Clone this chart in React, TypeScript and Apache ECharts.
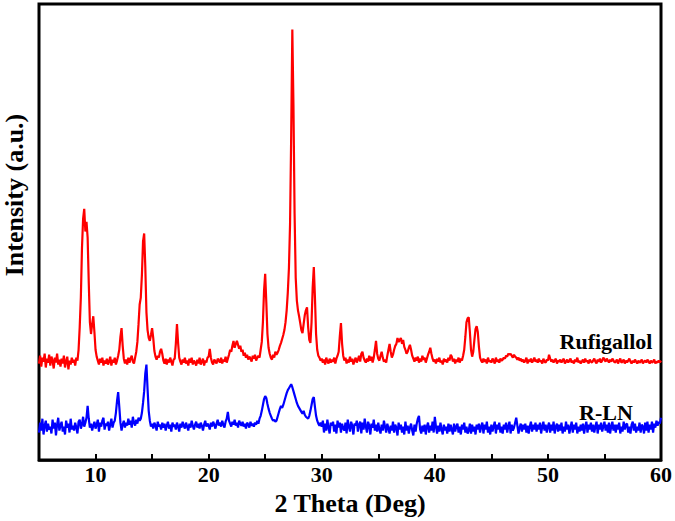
import React, { useEffect, useRef } from "react";
import * as echarts from "echarts";

// 2θ sampling grid (degrees)
const X_START = 5;
const X_STEP = 0.1;

// Rufigallol intensities (a.u., offset trace), 5.0 .. 60.0 step 0.1
const rufigallol: number[] = [
  98,106,95,104,100,108,94,103,99,107,
  96,105,101,93,104,99,108,97,102,95,
  103,98,106,94,100,105,92,101,97,104,
  99,102,96,104,101,112,135,165,215,245,
  255,232,242,226,180,140,128,138,146,130,
  112,105,101,97,103,99,104,96,101,98,
  103,97,100,105,96,102,99,104,97,101,
  106,112,125,134,116,103,98,102,97,104,
  99,103,106,100,98,104,110,120,138,158,
  165,188,222,230,196,150,132,124,121,127,
  134,124,111,105,102,106,104,110,113,108,
  101,98,103,97,102,99,104,100,96,102,
  103,118,138,119,104,100,97,102,99,104,
  98,101,96,103,99,104,97,101,99,96,
  102,98,104,97,100,103,96,101,99,104,
  105,113,104,99,97,102,100,98,103,101,
  99,104,98,102,100,105,99,103,107,112,
  110,116,121,114,118,121,117,113,116,110,
  112,106,109,104,107,102,105,103,100,106,
  103,107,101,104,106,104,112,120,140,172,
  189,160,128,114,108,104,102,107,104,110,
  107,109,112,116,119,123,127,132,140,152,
  170,195,240,330,437,360,250,185,162,152,
  146,139,132,129,138,147,152,155,135,122,
  119,140,175,196,165,128,112,106,104,101,
  103,99,102,97,104,100,98,103,99,102,
  100,104,98,103,106,110,126,139,118,106,
  101,104,98,102,99,105,100,103,97,101,
  104,99,102,106,100,108,110,104,101,99,
  103,100,106,101,105,99,104,112,121,108,
  103,101,106,110,104,100,102,99,106,112,
  118,110,104,107,112,116,118,124,120,122,
  124,118,122,115,112,108,110,114,117,112,
  106,103,100,104,101,105,99,103,100,106,
  102,104,99,103,107,110,114,108,103,100,
  102,98,103,100,104,99,101,97,103,100,
  102,99,104,101,107,105,100,103,98,102,
  100,104,99,103,101,106,112,125,140,144,
  145,130,112,105,110,122,133,136,130,115,
  104,101,99,103,100,102,98,104,100,101,
  99,103,101,98,104,100,102,99,103,101,
  102,104,103,106,105,108,107,108,106,104,
  107,105,104,102,104,101,103,100,102,99,
  101,104,98,102,100,103,99,101,104,100,
  102,99,103,100,101,98,103,100,99,102,
  101,107,103,100,102,99,101,103,98,101,
  100,102,99,101,103,98,100,102,99,101,
  103,99,101,98,102,100,104,99,101,98,
  100,102,99,103,100,101,98,102,100,99,
  101,103,100,98,102,100,103,99,101,104,
  102,100,103,101,99,102,100,103,101,99,
  100,102,98,101,103,99,100,102,98,101,
  99,101,103,100,98,101,99,102,100,98,
  101,99,100,102,98,100,101,99,102,100,
  98,101,99,100,102,98,100,99,101,99,
  101,
];

// R-LN intensities (a.u., offset trace), 5.0 .. 60.0 step 0.1
const rln: number[] = [
  28,38,30,42,26,35,40,29,37,31,
  34,27,41,32,38,25,36,43,30,35,
  39,29,34,26,40,33,37,28,42,31,
  35,30,38,33,27,39,41,32,36,44,
  34,38,43,55,42,33,37,30,35,39,
  32,36,41,29,38,34,40,43,31,37,
  35,39,30,36,42,33,38,40,48,60,
  69,54,38,30,36,40,33,38,35,42,
  36,40,33,44,38,35,41,37,43,40,
  42,48,58,70,88,97,72,50,40,34,
  37,32,38,35,30,39,34,36,31,38,
  33,37,30,35,39,32,36,29,38,34,
  36,31,38,34,29,37,33,39,35,32,
  38,34,30,37,33,40,35,31,36,39,
  33,37,32,38,35,30,36,40,34,37,
  35,31,38,34,39,36,32,37,41,35,
  38,34,40,36,33,39,42,49,40,37,
  34,39,36,41,35,38,33,40,37,35,
  39,34,37,32,38,36,33,39,35,37,
  34,38,36,40,37,42,45,50,56,62,
  65,63,57,52,48,45,42,40,41,39,
  40,44,48,52,55,53,56,60,64,68,
  71,73,75,77,74,70,66,62,58,55,
  53,51,49,47,50,46,44,43,42,45,
  50,56,62,64,54,45,40,37,35,38,
  34,40,28,37,30,41,33,27,38,35,
  39,29,36,27,40,33,38,28,37,32,
  30,38,27,41,34,29,39,35,26,37,
  35,40,29,36,39,27,38,31,42,34,
  28,39,35,26,37,33,41,30,36,29,
  38,31,27,36,30,40,34,28,37,32,
  27,35,30,39,28,36,33,25,38,31,
  36,28,34,26,39,30,35,27,33,37,
  30,25,36,29,37,42,45,31,27,35,
  29,36,26,34,38,28,35,30,39,28,
  44,34,27,35,29,38,31,26,36,30,
  34,27,37,29,36,31,26,37,29,34,
  37,28,34,26,36,31,38,28,34,27,
  30,37,27,36,29,34,26,36,31,37,
  28,34,38,27,36,31,39,28,34,26,
  36,29,34,39,27,36,31,38,28,34,
  27,36,31,38,28,34,39,27,36,30,
  33,38,43,35,27,33,37,29,36,31,
  37,28,35,27,34,39,29,36,31,38,
  29,36,31,38,27,34,39,30,36,28,
  34,38,28,36,30,39,27,34,37,29,
  36,30,38,27,34,29,39,31,36,27,
  33,39,28,36,31,38,27,34,29,36,
  30,37,27,34,39,28,36,31,38,29,
  36,28,34,39,27,36,31,38,29,34,
  39,30,36,28,38,27,34,39,30,36,
  28,36,31,38,27,34,29,39,31,36,
  37,28,34,27,36,39,30,37,28,34,
  30,38,28,36,34,27,38,30,39,28,
  36,31,39,28,37,33,40,35,39,37,
  43,
];

const X_MIN = 5;
const X_MAX = 60;
const X_TICK_STEP = 5;
const Y_MIN = 0;
const Y_MAX = 463;

const SERIES_NAMES = ["Rufigallol", "R-LN"];

const toPairs = (vals: number[]) =>
  vals.map((v, i) => [Number((X_START + i * X_STEP).toFixed(1)), v]);

const FONT = "'Liberation Serif', 'Times New Roman', serif";

export default function App() {
  const ref = useRef<HTMLDivElement>(null);

  useEffect(() => {
    document.body.style.margin = "0";
    if (!ref.current) return;
    const chart = echarts.init(ref.current, null, { renderer: "svg" });
    chart.setOption({
      animation: false,
      backgroundColor: "#ffffff",
      grid: {
        left: 39,
        right: 13.5,
        top: 4,
        bottom: 54,
        show: true,
        borderColor: "#000",
        borderWidth: 3,
        backgroundColor: "transparent",
      },
      xAxis: {
        type: "value",
        min: X_MIN,
        max: X_MAX,
        interval: X_TICK_STEP,
        name: "2 Theta (Deg)",
        nameLocation: "middle",
        nameGap: 28,
        nameTextStyle: {
          fontFamily: FONT,
          fontWeight: "bold",
          fontSize: 26,
          color: "#000",
        },
        axisLine: { show: true, lineStyle: { color: "#000", width: 2.5 } },
        axisTick: {
          show: true,
          inside: true,
          length: 6,
          lineStyle: { color: "#000", width: 2 },
        },
        axisLabel: {
          fontFamily: FONT,
          fontWeight: "bold",
          fontSize: 22,
          color: "#000",
          margin: 3,
          formatter: (v: number) => (v % 10 === 0 ? String(v) : ""),
        },
        splitLine: { show: false },
      },
      yAxis: {
        type: "value",
        min: Y_MIN,
        max: Y_MAX,
        axisLine: { show: false },
        axisTick: { show: false },
        axisLabel: { show: false },
        splitLine: { show: false },
      },
      series: [
        {
          name: SERIES_NAMES[0],
          type: "line",
          data: toPairs(rufigallol),
          showSymbol: false,
          symbol: "none",
          lineStyle: { color: "#ff0000", width: 2.2 },
          z: 3,
        },
        {
          name: SERIES_NAMES[1],
          type: "line",
          data: toPairs(rln),
          showSymbol: false,
          symbol: "none",
          lineStyle: { color: "#0000ff", width: 2.2 },
          z: 2,
        },
      ],
      graphic: [
        {
          type: "text",
          x: 14,
          y: 195,
          rotation: Math.PI / 2,
          style: {
            text: "Intensity (a.u.)",
            fontFamily: FONT,
            fontWeight: "bold",
            fontSize: 26,
            fill: "#000",
            align: "center",
            verticalAlign: "middle",
          },
        },
        {
          type: "text",
          x: 606,
          y: 341,
          style: {
            text: SERIES_NAMES[0],
            fontFamily: FONT,
            fontWeight: "bold",
            fontSize: 22,
            fill: "#000",
            align: "center",
            verticalAlign: "middle",
          },
        },
        {
          type: "text",
          x: 606,
          y: 412,
          style: {
            text: SERIES_NAMES[1],
            fontFamily: FONT,
            fontWeight: "bold",
            fontSize: 22,
            fill: "#000",
            align: "center",
            verticalAlign: "middle",
          },
        },
      ],
    });
    return () => chart.dispose();
  }, []);

  return <div ref={ref} style={{ width: 675, height: 521 }} />;
}
